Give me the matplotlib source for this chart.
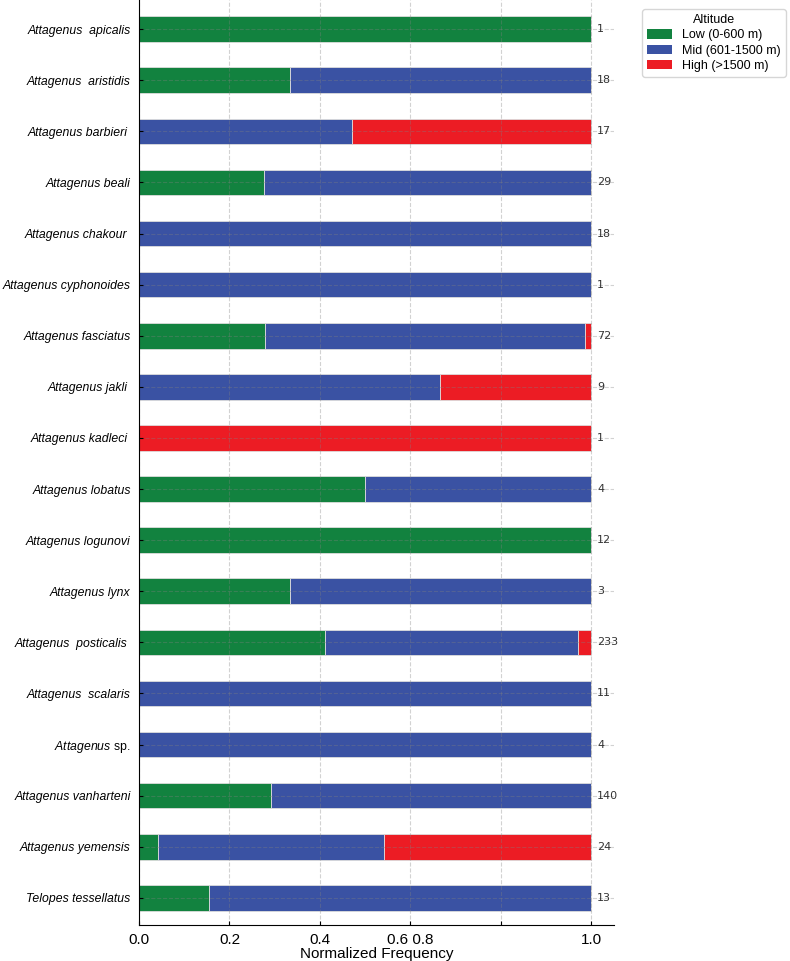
import numpy as np
import matplotlib.pyplot as plt
from matplotlib.patches import Patch

plt.rcParams['font.family'] = ['Liberation Sans', 'DejaVu Sans']
plt.rcParams['mathtext.fontset'] = 'custom'
plt.rcParams['mathtext.it'] = 'Liberation Sans:italic'
plt.rcParams['mathtext.rm'] = 'Liberation Sans'

# Species and record counts per altitude class
species = ["Attagenus  apicalis", "Attagenus  aristidis", "Attagenus barbieri ",
           "Attagenus beali", "Attagenus chakour ", "Attagenus cyphonoides",
           "Attagenus fasciatus", "Attagenus jakli ", "Attagenus kadleci ",
           "Attagenus lobatus", "Attagenus logunovi", "Attagenus lynx",
           "Attagenus  posticalis ", "Attagenus  scalaris", "Attagenus sp.",
           "Attagenus vanharteni", "Attagenus yemensis", "Telopes tessellatus"]
low = np.array([1, 6, 0, 8, 0, 0, 20, 0, 0, 2, 12, 1, 96, 0, 0, 41, 1, 2])
mid = np.array([0, 12, 8, 21, 18, 1, 51, 6, 0, 2, 0, 2, 130, 11, 4, 99, 12, 11])
high = np.array([0, 0, 9, 0, 0, 0, 1, 3, 1, 0, 0, 0, 7, 0, 0, 0, 11, 0])

totals = low + mid + high
low_f = low / totals
mid_f = mid / totals
high_f = high / totals

colors = ['#12823f', '#3a52a3', '#ec1c24']
labels = ['Low (0-600 m)', 'Mid (601-1500 m)', 'High (>1500 m)']

fig = plt.figure(figsize=(7.9, 9.61), dpi=100)
ax = fig.add_axes([0.176, 0.0375, 0.601, 0.9625])

y = np.arange(len(species))
h = 0.5
ax.barh(y, low_f, height=h, color=colors[0], edgecolor='#dddddd', linewidth=0.6)
ax.barh(y, mid_f, left=low_f, height=h, color=colors[1], edgecolor='#dddddd', linewidth=0.6)
ax.barh(y, high_f, left=low_f + mid_f, height=h, color=colors[2], edgecolor='#dddddd', linewidth=0.6)

for yi, n in zip(y, totals):
    ax.text(1.013, yi, str(n), va='center', ha='left', fontsize=8,
            color='#333333', family='DejaVu Sans')

# tick labels: "sp." stays upright
ylabels = []
for s in species:
    if s.endswith('sp.'):
        ylabels.append(r'$\it{Attagenus}$ sp.')
    else:
        ylabels.append(s)
ax.set_yticks(y)
ax.set_yticklabels(ylabels, fontsize=8.8)
for lab, s in zip(ax.get_yticklabels(), species):
    if not s.endswith('sp.'):
        lab.set_style('italic')

ax.set_xticks([0, 0.2, 0.4, 0.6, 0.8, 1.0])
ax.set_xticklabels(['0.0', '0.2', '0.4', '0.6 0.8', '', '1.0'], fontsize=11)
ax.set_xlim(0, 1.05)
ax.set_ylim(17.53, -0.57)
ax.set_xlabel('Normalized Frequency', fontsize=11, labelpad=0)

ax.tick_params(axis='both', direction='in', length=3)
ax.tick_params(axis='y', pad=6)
ax.tick_params(axis='x', pad=6)
ax.grid(True, linestyle='--', color='gray', alpha=0.35, linewidth=0.8)
ax.spines['top'].set_visible(False)
ax.spines['right'].set_visible(False)

handles = [Patch(facecolor=c, label=l) for c, l in zip(colors, labels)]
leg = fig.legend(handles=handles, title='Altitude', loc='upper left',
                 bbox_to_anchor=(0.805, 0.997), fontsize=9, title_fontsize=9,
                 frameon=True, labelspacing=0.25, handleheight=0.8,
                 borderpad=0.4)
leg.get_frame().set_edgecolor('#cccccc')

fig.savefig('out.png', dpi=100)
